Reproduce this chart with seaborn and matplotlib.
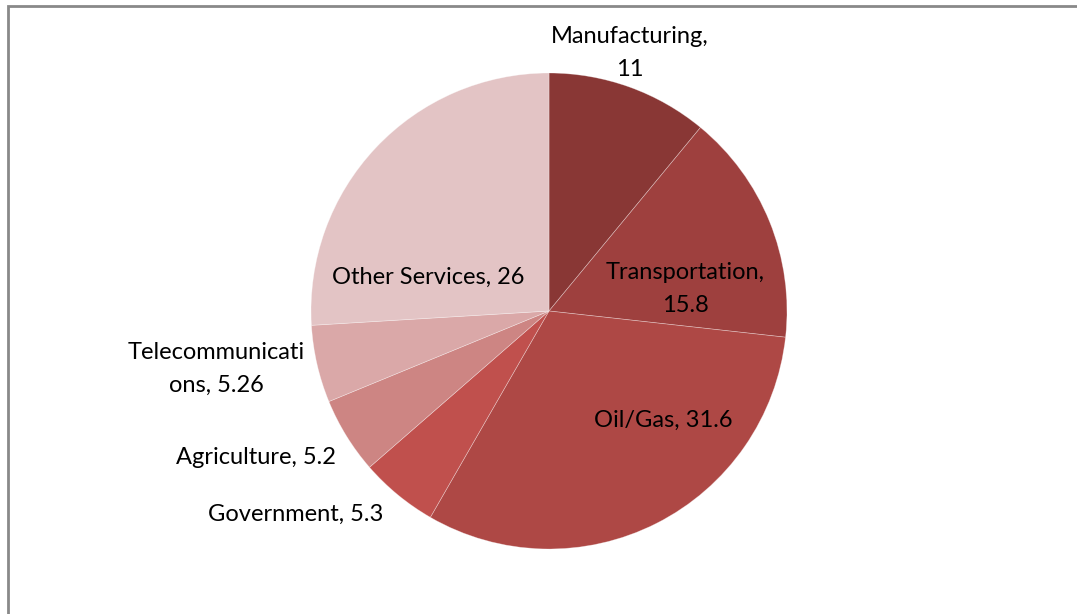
import matplotlib
matplotlib.use("Agg")
import matplotlib.pyplot as plt
from matplotlib.patches import Rectangle
import seaborn as sns

sectors = ["Manufacturing", "Transportation", "Oil/Gas", "Government",
           "Agriculture", "Telecommunications", "Other Services"]
shares = [11, 15.8, 31.6, 5.3, 5.2, 5.26, 26]
value_text = ["11", "15.8", "31.6", "5.3", "5.2", "5.26", "26"]

sns.set_theme(style="white")
plt.rcParams["font.family"] = ["Lato", "DejaVu Sans"]

palette = ["#893735", "#9E403E", "#AE4845", "#C0504D",
           "#CD8583", "#DAA8A8", "#E3C4C5"]

W, H = 1077, 614
fig = plt.figure(figsize=(W / 100, H / 100), dpi=100)
fig.patch.set_facecolor("white")
ax = fig.add_axes([0, 0, 1, 1])

# pie drawn clockwise from 12 o'clock; y axis points down, so counterclock
# in data terms renders clockwise on screen
cx, cy, r = 549, 311, 238
wedges, _ = ax.pie(shares, colors=palette, startangle=-90, counterclock=True,
                   center=(cx, cy), radius=r, frame=True,
                   wedgeprops=dict(edgecolor=(1, 1, 1, 0.4), linewidth=0.5))
ax.set_xlim(0, W)
ax.set_ylim(H, 0)
ax.set_aspect("equal")
ax.axis("off")

# data label text, wrapped where the label box is narrow
label_lines = [
    f"{sectors[0]},\n{value_text[0]}",
    f"{sectors[1]},\n{value_text[1]}",
    f"{sectors[2]}, {value_text[2]}",
    f"{sectors[3]}, {value_text[3]}",
    f"{sectors[4]}, {value_text[4]}",
    "Telecommunicati\nons, " + value_text[5],
    f"{sectors[6]}, {value_text[6]}",
]
label_pos = [(630, 53), (685, 289), (663, 420), (296, 514),
             (256, 458), (216, 369), (428, 277)]
for txt, (x, y) in zip(label_lines, label_pos):
    ax.text(x, y, txt, ha="center", va="center", fontsize=17,
            color="black", linespacing=1.7)

# chart area border (only top and left edges fall inside the image)
fig.patches.append(Rectangle((7.5 / W, -0.1), 1.2, (H - 5.5) / H + 0.1,
                             transform=fig.transFigure, fill=False,
                             edgecolor="#898989", linewidth=2))

fig.savefig("out.png", dpi=100, facecolor="white")
